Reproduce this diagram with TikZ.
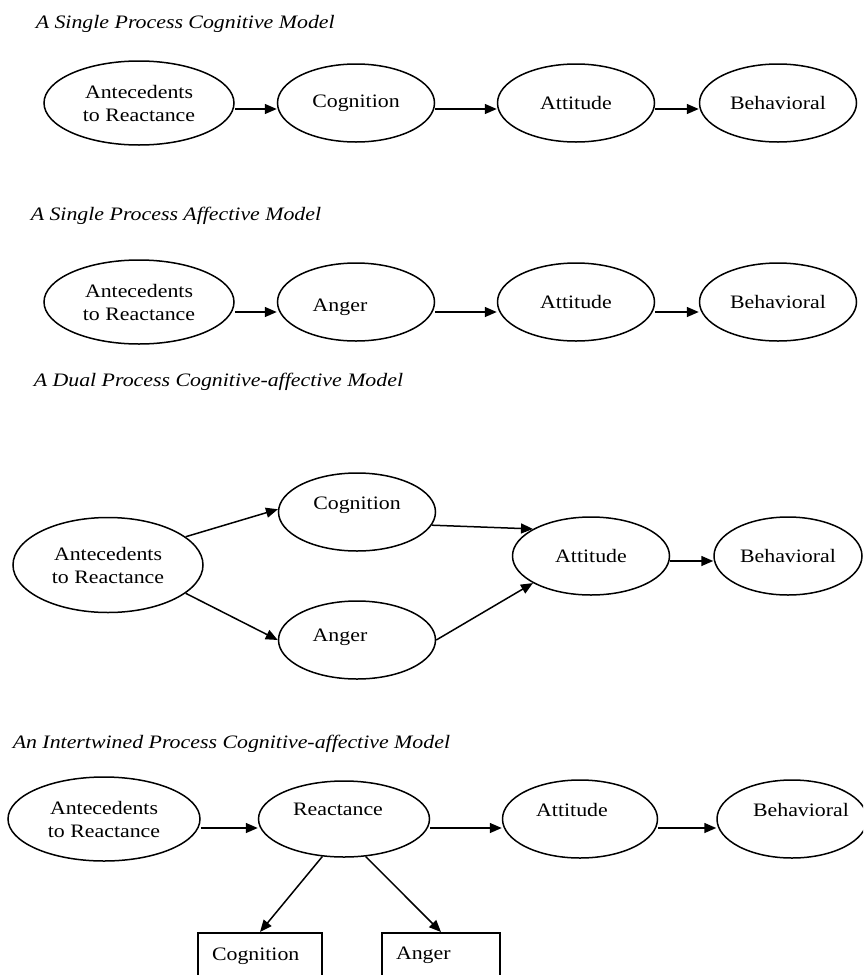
\documentclass[tikz,border=0pt]{standalone}
\usepackage{fontspec}
\setmainfont{Liberation Serif}[FakeStretch=1.15]
\usetikzlibrary{shapes.geometric,arrows.meta}
\begin{document}
\begin{tikzpicture}[x=1pt,y=-1pt,line width=1.5pt,>={Triangle[length=12pt,width=10pt]},
    every node/.style={font=\fontsize{19}{23}\selectfont,inner sep=0pt},
    heading/.style={anchor=base west,font=\fontsize{19}{23}\selectfont\itshape},
    oval/.style={draw,ellipse,align=center,minimum width=157pt,minimum height=78pt},
    wideoval/.style={oval,minimum width=190pt,minimum height=84pt},
    tag/.style={draw,rectangle,align=left,inner xsep=14pt,minimum height=46pt,anchor=north}]
    \useasboundingbox (0,0) rectangle (863,975);
    \clip (0,0) rectangle (863,975);

    \node[heading] (t1) at (35,28) {A Single Process Cognitive Model};
    \node[wideoval] (ant1) at (139,103) {Antecedents\\to Reactance};
    \node[oval] (cog1) at (356,103) {Cognition};
    \node[oval] (att1) at (576,103) {Attitude};
    \node[oval] (beh1) at (778,103) {Behavioral};

    \draw[->] ([yshift=-6pt]ant1.east) to ([yshift=-6pt]cog1.west); \draw[->] ([yshift=-6pt]cog1.east) to ([yshift=-6pt]att1.west); \draw[->] ([yshift=-6pt]att1.east) to ([yshift=-6pt]beh1.west);

    \node[heading] (t2) at (30,220) {A Single Process Affective Model};
    \node[wideoval] (ant2) at (139,302) {Antecedents\\to Reactance};
    \node[oval,label={[xshift=-16pt,yshift=-5pt]center:Anger}] (ang2) at (356,302) {};
    \node[oval] (att2) at (576,302) {Attitude};
    \node[oval] (beh2) at (778,302) {Behavioral};

    \draw[->] ([yshift=-10pt]ant2.east) to ([yshift=-10pt]ang2.west); \draw[->] ([yshift=-10pt]ang2.east) to ([yshift=-10pt]att2.west); \draw[->] ([yshift=-10pt]att2.east) to ([yshift=-10pt]beh2.west);

    \node[heading] (t3) at (33,386) {A Dual Process Cognitive-affective Model};
    \node[wideoval,minimum height=95pt] (ant3) at (108,565) {Antecedents\\to Reactance};
    \node[oval,label={[yshift=7pt]center:Cognition}] (cog3) at (357,512) {};
    \node[oval,label={[xshift=-17pt,yshift=3pt]center:Anger}] (ang3) at (357,640) {};
    \node[oval] (att3) at (591,556) {Attitude};
    \node[oval,minimum width=148pt] (beh3) at (788,556) {Behavioral};

    \draw[->] (ant3.20) to (cog3.178); \draw[->] (ant3.-20) to (ang3.west);
    \draw[->] (cog3.-10) to (att3.155); \draw[->] (ang3.east) to (att3.-155); \draw[->] ([yshift=-5pt]att3.east) to ([yshift=-5pt]beh3.west);

    \node[heading] (t4) at (12,748) {An Intertwined Process Cognitive-affective Model};
    \node[wideoval,minimum width=192pt] (ant4) at (104,819) {Antecedents\\to Reactance};
    \node[oval,minimum width=171pt,minimum height=76pt,label={[xshift=-6pt,yshift=10pt]center:Reactance}] (re4) at (344,819) {};
    \node[oval,minimum width=155pt,label={[xshift=-8pt,yshift=9pt]center:Attitude}] (att4) at (580,819) {};
    \node[oval,minimum width=150pt,label={[xshift=9pt,yshift=9pt]center:Behavioral}] (beh4) at (792,819) {};
    \node[tag,text width=96pt] (cbox) at (260,932) {Cognition};
    \node[tag,text width=90pt] (abox) at (441,932) {Anger};

    \draw[->] ([yshift=-9pt]ant4.east) to ([yshift=-9pt]re4.west); \draw[->] ([yshift=-9pt]re4.east) to ([yshift=-9pt]att4.west); \draw[->] ([yshift=-9pt]att4.east) to ([yshift=-9pt]beh4.west);
    \draw[->] (re4.-120) to (cbox.north); \draw[->] (re4.-60) to (abox.north);
\end{tikzpicture}
\end{document}
